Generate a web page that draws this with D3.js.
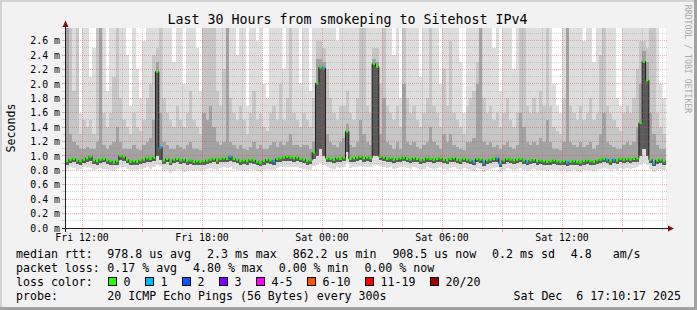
<!DOCTYPE html>
<meta charset="utf-8">
<style>
	body { margin: 0; background: #f2f2f2; }
	svg text { font-family: "DejaVu Sans Mono", monospace; fill: #000; }
	.axis text { font-size: 9.9px; }
	.legend text { font-size: 11.6px; white-space: pre; }
</style>
<body>
<script src="https://d3js.org/d3.v7.min.js"></script>
<script>

	// graph covers the 30 hours up to this moment, 10 minute steps
	var endTime = new Date(Date.UTC(2025, 11, 6, 17, 10, 17));
	var spanHours = 30;
	var stepMinutes = 10;

	// median rtt per step (ms)
	var median = [
		0.93,0.95,0.96,0.94,0.93,0.95,0.97,0.99,0.94,0.93, 0.95,0.96,0.94,0.93,0.91,0.93,1.00,0.99,0.95,0.92,
		0.93,0.92,0.94,0.95,0.97,0.96,0.98,2.17,1.12,0.94, 0.96,0.92,0.95,0.96,0.94,0.95,0.93,0.94,0.92,0.93,
		0.92,0.93,0.94,0.95,0.96,0.94,0.96,0.97,0.96,0.99, 0.96,0.95,0.93,0.94,0.93,0.95,0.94,0.92,0.90,0.93,
		0.95,0.94,0.93,0.96,0.97,0.98,0.99,0.98,0.97,0.98, 0.96,0.95,0.93,0.94,1.05,2.01,2.23,2.22,0.97,0.96,
		0.95,0.97,0.96,0.98,1.34,0.96,0.97,0.98,0.99,0.97, 0.98,0.97,2.28,2.24,0.99,0.98,0.96,0.97,0.95,0.96,
		0.97,0.98,0.96,0.95,0.97,0.96,0.94,0.95,0.97,0.96, 0.95,0.96,0.97,0.95,0.94,0.96,0.97,0.95,0.94,0.96,
		0.95,0.94,0.92,0.96,0.95,0.91,0.94,0.95,0.96,0.97, 0.89,0.94,0.96,0.95,0.94,0.95,0.96,0.94,0.92,0.94,
		0.95,0.93,0.94,0.93,0.92,0.93,0.94,0.93,0.92,0.93, 0.91,0.92,0.93,0.92,0.91,0.93,0.94,0.93,0.92,0.94,
		0.95,0.96,0.95,0.93,0.95,0.94,0.96,0.95,0.96,0.95, 0.96,0.97,1.46,2.31,2.05,0.95,0.90,0.94,0.95,0.93
	];

	// highest ping per step (values above the top are clipped)
	var maxPing = [
		2.8,2.8,2.8,2.8,1.6,2.8,2.8,2.1,2.5,2.8, 2.8,2.8,1.9,2.8,2.8,2.8,2.8,2.8,2.4,1.7,
		2.8,2.2,1.8,2.6,2.8,2.8,2.8,2.8,2.8,2.8, 2.8,2.8,2.3,2.8,2.8,2.0,2.8,2.8,2.8,2.5,
		1.9,2.8,2.8,2.8,2.8,2.8,2.8,2.8,2.8,2.8, 2.8,2.4,2.8,2.8,1.7,2.8,2.8,2.6,2.8,2.0,
		1.8,2.8,2.8,2.8,2.8,2.2,2.8,2.8,2.8,2.8, 2.0,2.8,2.8,1.9,2.8,2.8,2.8,2.8,2.8,2.8,
		2.8,2.6,2.8,2.8,2.8,2.8,2.8,2.8,2.8,2.8, 2.8,2.8,2.8,2.8,2.8,2.8,2.8,2.8,2.4,2.8,
		1.8,2.8,2.8,2.8,2.8,2.8,2.1,2.8,2.8,2.8, 2.8,2.8,2.0,2.8,2.8,2.8,2.8,2.8,2.3,1.6,
		2.8,2.8,2.8,2.8,2.8,2.8,2.8,2.8,2.5,2.8, 1.9,2.8,2.8,2.8,2.2,2.8,2.8,2.8,2.8,2.8,
		2.8,2.8,2.8,2.8,2.8,2.8,2.0,1.7,1.6,2.8, 2.8,2.8,2.8,2.8,2.8,2.6,2.8,2.8,2.3,2.8,
		2.8,2.8,2.8,2.8,2.8,1.8,1.7,2.8,2.8,2.8, 2.8,2.8,2.8,2.8,2.8,2.8,2.8,2.8,2.0,1.8
	];

	// 90th percentile ping
	var p90 = [
		2.8,2.8,1.9,2.8,1.3,1.5,1.4,1.5,1.3,2.8, 2.8,1.6,1.4,1.6,2.1,2.8,1.8,1.5,1.4,1.3,
		1.6,1.4,1.35,1.5,1.8,2.0,2.4,2.5,2.8,1.8, 1.6,1.5,1.4,1.7,1.5,1.4,1.6,1.9,1.5,1.4,
		1.3,2.8,2.8,2.8,2.8,1.9,1.7,2.2,2.8,1.8, 1.6,1.5,1.7,1.5,1.3,1.6,1.9,1.5,1.6,1.4,
		1.35,1.6,1.7,1.5,2.0,1.5,1.8,2.8,1.6,1.5, 1.4,1.6,1.5,1.4,1.8,2.6,2.6,2.5,2.2,1.8,
		1.6,1.5,1.7,1.7,1.9,1.6,1.5,1.8,2.8,2.8, 1.7,1.6,2.5,2.5,2.0,2.8,1.7,1.6,1.5,1.7,
		1.4,2.8,1.8,1.6,1.7,1.5,1.4,1.6,1.8,2.8, 1.7,1.6,1.4,2.2,1.7,2.6,1.6,1.5,1.4,1.3,
		1.7,1.8,1.9,2.3,2.8,1.8,1.6,1.7,1.5,1.6, 1.4,1.6,1.8,1.5,1.4,1.6,2.8,2.8,1.7,1.6,
		1.8,1.6,1.9,1.7,2.8,1.7,1.4,1.35,1.3,1.8, 2.8,1.7,1.6,1.5,1.7,1.5,1.6,1.8,1.5,1.6,
		2.4,2.8,1.7,1.6,1.5,1.4,1.35,1.6,1.7,1.6, 1.8,2.2,2.6,2.6,2.5,2.8,2.8,1.6,1.4,1.3
	];

	// 75th percentile ping
	var p75 = [
		2.8,1.3,1.2,1.15,1.1,1.1,1.12,1.1,1.1,1.2, 2.8,1.15,1.1,1.15,1.2,1.4,1.2,1.1,1.1,1.1,
		1.15,1.1,1.08,1.15,1.2,1.25,1.5,2.3,1.6,1.2, 1.15,1.1,1.1,1.15,1.12,1.1,1.15,1.2,1.1,1.1,
		1.08,1.6,1.5,1.7,1.4,1.2,1.15,1.2,2.8,1.2, 1.15,1.1,1.15,1.1,1.08,1.12,1.2,1.1,1.15,1.1,
		1.1,1.15,1.2,1.12,1.2,1.15,1.2,1.3,1.15,1.15, 1.12,1.15,1.15,1.1,1.2,2.35,2.35,2.3,1.3,1.2,
		1.15,1.12,1.2,1.25,1.45,1.15,1.12,1.2,1.5,1.3, 1.2,1.15,2.35,2.3,1.3,1.8,1.2,1.15,1.1,1.2,
		1.1,2.0,1.2,1.15,1.2,1.12,1.1,1.15,1.2,1.4, 1.2,1.15,1.1,1.3,1.2,1.3,1.15,1.12,1.1,1.08,
		1.2,1.2,1.25,2.0,2.8,1.2,1.15,1.2,1.12,1.15, 1.1,1.15,1.2,1.12,1.1,1.15,1.6,1.4,1.2,1.15,
		1.2,1.15,1.25,1.2,1.5,1.2,1.1,1.1,1.08,1.2, 2.8,1.2,1.15,1.12,1.2,1.12,1.15,1.2,1.1,1.15,
		1.3,1.6,1.2,1.15,1.12,1.1,1.1,1.15,1.2,1.15, 1.2,1.4,2.0,2.45,2.3,1.6,1.3,1.15,1.1,1.1
	];

	// 25th percentile ping
	var p25 = [
		0.88,0.90,0.91,0.89,0.88,0.90,0.92,0.93,0.89,0.88, 0.90,0.91,0.89,0.88,0.87,0.88,0.94,0.93,0.90,0.87,
		0.88,0.87,0.89,0.90,0.92,0.91,0.93,1.00,0.95,0.89, 0.91,0.87,0.90,0.91,0.89,0.90,0.88,0.89,0.87,0.88,
		0.87,0.88,0.89,0.90,0.91,0.89,0.91,0.92,0.91,0.93, 0.91,0.90,0.88,0.89,0.88,0.90,0.89,0.87,0.86,0.88,
		0.90,0.89,0.88,0.91,0.92,0.93,0.93,0.93,0.92,0.93, 0.91,0.90,0.88,0.89,0.96,1.00,1.10,1.00,0.92,0.91,
		0.90,0.92,0.91,0.93,1.05,0.91,0.92,0.93,0.94,0.92, 0.93,0.92,1.00,1.00,0.94,0.93,0.91,0.92,0.90,0.91,
		0.92,0.93,0.91,0.90,0.92,0.91,0.89,0.90,0.92,0.91, 0.90,0.91,0.92,0.90,0.89,0.91,0.92,0.90,0.89,0.91,
		0.90,0.89,0.87,0.91,0.90,0.86,0.89,0.90,0.91,0.92, 0.85,0.89,0.91,0.90,0.89,0.90,0.91,0.89,0.87,0.89,
		0.90,0.88,0.89,0.88,0.87,0.88,0.89,0.88,0.87,0.88, 0.86,0.87,0.88,0.87,0.86,0.88,0.89,0.88,0.87,0.89,
		0.90,0.91,0.90,0.88,0.90,0.89,0.91,0.90,0.91,0.90, 0.91,0.92,1.00,1.10,1.00,0.90,0.86,0.89,0.90,0.88
	];

	// lowest ping per step
	var minPing = [
		0.82,0.84,0.83,0.81,0.82,0.84,0.85,0.83,0.80,0.82, 0.83,0.82,0.80,0.81,0.79,0.82,0.85,0.84,0.82,0.80,
		0.81,0.80,0.82,0.83,0.84,0.82,0.85,0.88,0.86,0.81, 0.80,0.76,0.79,0.82,0.80,0.78,0.80,0.81,0.79,0.80,
		0.79,0.81,0.82,0.83,0.82,0.81,0.83,0.84,0.83,0.85, 0.82,0.81,0.80,0.81,0.79,0.82,0.81,0.79,0.78,0.80,
		0.82,0.81,0.80,0.83,0.84,0.85,0.84,0.85,0.84,0.85, 0.83,0.82,0.80,0.81,0.86,0.88,0.90,0.88,0.84,0.83,
		0.82,0.84,0.83,0.85,0.90,0.83,0.84,0.85,0.86,0.84, 0.85,0.84,0.88,0.88,0.86,0.85,0.83,0.84,0.82,0.83,
		0.84,0.85,0.83,0.82,0.84,0.83,0.81,0.82,0.84,0.83, 0.82,0.83,0.84,0.82,0.81,0.83,0.84,0.82,0.81,0.83,
		0.82,0.81,0.79,0.83,0.82,0.78,0.81,0.82,0.83,0.84, 0.78,0.81,0.83,0.82,0.81,0.82,0.83,0.81,0.79,0.81,
		0.82,0.80,0.81,0.80,0.79,0.80,0.81,0.80,0.79,0.80, 0.78,0.79,0.80,0.79,0.78,0.80,0.81,0.80,0.79,0.81,
		0.82,0.83,0.82,0.80,0.82,0.81,0.83,0.82,0.83,0.82, 0.83,0.84,0.88,0.90,0.88,0.82,0.78,0.81,0.82,0.80
	];

	// lost pings (of 20) per step
	var loss = [
		0,0,0,0,0,0,0,0,0,0, 0,0,0,0,0,0,0,0,0,0,
		0,0,0,0,0,0,0,0,1,0, 0,0,0,0,0,0,0,0,0,0,
		0,0,0,0,0,0,0,0,0,1, 0,0,0,0,0,0,0,0,0,0,
		0,0,1,0,0,0,0,0,0,0, 0,0,0,0,0,0,0,1,0,0,
		0,0,0,0,0,0,0,0,0,0, 0,0,0,0,0,0,0,0,0,0,
		0,0,0,0,0,0,0,0,0,0, 0,0,0,0,0,0,0,0,0,0,
		0,0,1,0,0,1,0,0,0,1, 1,0,0,0,0,0,0,0,1,0,
		0,0,0,0,0,0,0,0,0,0, 1,0,0,0,0,0,0,0,0,0,
		0,0,1,0,1,0,0,0,0,0, 0,0,0,0,0,0,1,0,0,0
	];

	var yTicks = [0, 0.2, 0.4, 0.6, 0.8, 1.0, 1.2, 1.4, 1.6, 1.8, 2.0, 2.2, 2.4, 2.6];
	var yMax = 2.776;

	var lossLabels = ["0", "1", "2", "3", "4-5", "6-10", "11-19", "20/20"];
	var lossColors = ["#26ff00", "#00b8ff", "#0059ff", "#7e00ff", "#ff00ff", "#ff5500", "#ff0000", "#a10000"];
	var lossLimits = [0, 1, 2, 3, 5, 10, 19, 20];

	var title = "Last 30 Hours from smokeping to Sitehost IPv4";
	var medianStats = ["978.8 us avg", "2.3 ms max", "862.2 us min", "908.5 us now", "0.2 ms sd", "4.8   am/s"];
	var lossStats = ["0.17 % avg", "4.80 % max", "0.00 % min", "0.00 % now"];
	var probeText = "20 ICMP Echo Pings (56 Bytes) every 300s";
	var stampText = "Sat Dec  6 17:10:17 2025";

	var W = 697, H = 310;
	var startTime = d3.utcHour.offset(endTime, -spanHours);

	var x = d3.scaleTime().domain([startTime, endTime]).range([65.5, 665.5]);
	var y = d3.scaleLinear().domain([0, yMax]).range([228, 28]);

	var steps = median.map(function(m, i) {
		var t0 = d3.utcMinute.offset(startTime, i * stepMinutes);
		return {
			t0: t0, t1: d3.utcMinute.offset(t0, stepMinutes),
			lo: minPing[i], p25: p25[i], med: m, p75: p75[i], p90: p90[i], hi: maxPing[i],
			loss: loss[i]
		};
	});

	var svg = d3.select("body").append("svg")
		.attr("width", W)
		.attr("height", H);

	// background with rrdtool style shaded frame
	svg.append("rect").attr("width", W).attr("height", H).attr("fill", "#f2f2f2");
	svg.append("path").attr("d", "M0,0H697V2H2V310H0Z").attr("fill", "#d2d2d2");
	svg.append("path").attr("d", "M697,0V310H0V307H694V0Z").attr("fill", "#a2a2a2");

	svg.append("rect")
		.attr("x", 66).attr("y", 28)
		.attr("width", 600).attr("height", 200)
		.attr("fill", "#fff");

	svg.append("clipPath").attr("id", "plot")
		.append("rect").attr("x", 66).attr("y", 28).attr("width", 601).attr("height", 200);

	var g = svg.append("g").attr("clip-path", "url(#plot)");

	// smoke: light outer pings, darker towards the median
	var bands = [
		{from: "lo", to: "hi", color: "#dddddd"},
		{from: "p25", to: "p90", color: "#c6c6c6"},
		{from: "p25", to: "p75", color: "#a2a2a2"},
		{from: "p25", to: "med", color: "#5a5a5a"}
	];

	bands.forEach(function(b) {
		g.append("g").selectAll("rect")
			.data(steps)
			.enter().append("rect")
			.attr("x", function(d) { return x(d.t0); })
			.attr("width", function(d) { return x(d.t1) - x(d.t0); })
			.attr("y", function(d) { return y(Math.min(d[b.to], yMax + 0.05)); })
			.attr("height", function(d) { return y(d[b.from]) - y(Math.min(d[b.to], yMax + 0.05)); })
			.attr("fill", b.color)
			.attr("shape-rendering", "crispEdges");
	});

	// median: dark connecting line, then loss coloured pieces
	var medPts = steps.map(function(d) { return [x(d.t0), y(d.med)]; });
	medPts.push([x(steps[steps.length - 1].t1), y(steps[steps.length - 1].med)]);
	g.append("path")
		.attr("d", d3.line().curve(d3.curveStepAfter)(medPts))
		.attr("fill", "none")
		.attr("stroke", "#202020")
		.attr("stroke-width", 1);

	function lossIndex(n) {
		for (var k = 0; k < lossLimits.length; k++) {
			if (n <= lossLimits[k]) return k;
		}
		return lossLimits.length - 1;
	}

	g.append("g").selectAll("rect")
		.data(steps)
		.enter().append("rect")
		.attr("x", function(d) { return x(d.t0) + 0.4; })
		.attr("width", function(d) { return x(d.t1) - x(d.t0) - 0.8; })
		.attr("y", function(d) { return y(d.med) - 1.2; })
		.attr("height", 2.4)
		.attr("fill", function(d) { return lossColors[lossIndex(d.loss)]; });

	// grid on top of the graph
	var grid = svg.append("g").attr("shape-rendering", "crispEdges");
	var minorColor = "rgba(130,130,130,0.3)";
	var majorColor = "rgba(230,70,70,0.42)";

	var minorY = d3.range(1, 28).map(function(k) { return k / 10; }).filter(function(v) { return Math.round(v * 10) % 2 === 1; });
	grid.selectAll(".hminor")
		.data(minorY)
		.enter().append("line")
		.attr("x1", 66).attr("x2", 668)
		.attr("y1", function(d) { return Math.floor(y(d)) + 0.5; })
		.attr("y2", function(d) { return Math.floor(y(d)) + 0.5; })
		.attr("stroke", minorColor)
		.attr("stroke-dasharray", "1,1");

	grid.selectAll(".hmajor")
		.data(yTicks.slice(1))
		.enter().append("line")
		.attr("x1", 66).attr("x2", 668)
		.attr("y1", function(d) { return Math.floor(y(d)) + 0.5; })
		.attr("y2", function(d) { return Math.floor(y(d)) + 0.5; })
		.attr("stroke", majorColor)
		.attr("stroke-dasharray", "1,1");

	var hours = d3.utcHour.every(1).range(startTime, endTime);
	var minorX = hours.filter(function(t) { return t.getUTCHours() % 3 !== 0; });
	var majorX = hours.filter(function(t) { return t.getUTCHours() % 3 === 0; });

	grid.selectAll(".vminor")
		.data(minorX)
		.enter().append("line")
		.attr("y1", 28).attr("y2", 228)
		.attr("x1", function(d) { return Math.floor(x(d)) + 0.5; })
		.attr("x2", function(d) { return Math.floor(x(d)) + 0.5; })
		.attr("stroke", minorColor)
		.attr("stroke-dasharray", "1,1");

	grid.selectAll(".vmajor")
		.data(majorX)
		.enter().append("line")
		.attr("y1", 28).attr("y2", 228)
		.attr("x1", function(d) { return Math.floor(x(d)) + 0.5; })
		.attr("x2", function(d) { return Math.floor(x(d)) + 0.5; })
		.attr("stroke", majorColor)
		.attr("stroke-dasharray", "1,1");

	// tick marks just outside the axes
	grid.selectAll(".tx")
		.data(hours)
		.enter().append("line")
		.attr("x1", function(d) { return Math.floor(x(d)) + 0.5; })
		.attr("x2", function(d) { return Math.floor(x(d)) + 0.5; })
		.attr("y1", 229).attr("y2", function(d) { return d.getUTCHours() % 3 === 0 ? 232 : 231; })
		.attr("stroke", function(d) { return d.getUTCHours() % 3 === 0 ? majorColor : minorColor; });

	grid.selectAll(".ty")
		.data(minorY.concat(yTicks.slice(1)))
		.enter().append("line")
		.attr("y1", function(d) { return Math.floor(y(d)) + 0.5; })
		.attr("y2", function(d) { return Math.floor(y(d)) + 0.5; })
		.attr("x1", 62).attr("x2", 65)
		.attr("stroke", function(d) { return yTicks.indexOf(d) >= 0 ? majorColor : minorColor; });

	// axes with arrows
	var axisColor = "#202020", arrowColor = "#7f1010";
	grid.append("line").attr("x1", 62).attr("x2", 669).attr("y1", 228.5).attr("y2", 228.5).attr("stroke", axisColor);
	grid.append("line").attr("x1", 65.5).attr("x2", 65.5).attr("y1", 232).attr("y2", 24).attr("stroke", axisColor);
	svg.append("path").attr("d", "M62.5,27L68.5,27L65.5,20.5Z").attr("fill", arrowColor);
	svg.append("path").attr("d", "M668,225.5L668,231.5L674,228.5Z").attr("fill", arrowColor);

	// axis labels
	var axis = svg.append("g").attr("class", "axis");
	axis.selectAll(".yl")
		.data(yTicks)
		.enter().append("text")
		.attr("x", 60)
		.attr("y", function(d) { return y(d) + 3.6; })
		.attr("text-anchor", "end")
		.text(function(d) { return d.toFixed(1) + " m"; });

	var fmt = d3.utcFormat("%a %H:%M");
	axis.selectAll(".xl")
		.data(d3.utcHour.every(6).range(startTime, endTime))
		.enter().append("text")
		.attr("x", function(d) { return x(d); })
		.attr("y", 240.5)
		.attr("text-anchor", "middle")
		.text(function(d) { return fmt(d); });

	svg.append("text")
		.attr("x", 347.5).attr("y", 24)
		.attr("text-anchor", "middle")
		.style("font-size", "13.3px")
		.text(title);

	svg.append("text")
		.attr("transform", "translate(15,128) rotate(-90)")
		.attr("text-anchor", "middle")
		.style("font-size", "11.6px")
		.text("Seconds");

	svg.append("text")
		.attr("transform", "translate(685,59) rotate(90)")
		.attr("text-anchor", "middle")
		.style("font-size", "8.2px")
		.style("fill", "#a8a8a8")
		.text("RRDTOOL / TOBI OETIKER");

	// legend
	var leg = svg.append("g").attr("class", "legend");
	var cw = 7.0, gap = 15.7, col = 107.3;

	function row(label, items, base) {
		leg.append("text").attr("x", 16).attr("y", base).text(label);
		var px = col;
		items.forEach(function(s) {
			leg.append("text").attr("x", px).attr("y", base).text(s);
			px += s.length * cw + gap;
		});
	}

	row("median rtt:", medianStats, 257.5);
	row("packet loss:", lossStats, 271.5);

	leg.append("text").attr("x", 16).attr("y", 285.5).text("loss color:");
	var bx = 108.5;
	lossLabels.forEach(function(l, k) {
		leg.append("rect")
			.attr("x", bx).attr("y", 277.5)
			.attr("width", 8).attr("height", 8)
			.attr("fill", lossColors[k])
			.attr("stroke", "#000");
		leg.append("text").attr("x", bx + 15).attr("y", 285.5).text(l);
		bx += 15 + l.length * cw + 15;
	});

	leg.append("text").attr("x", 16).attr("y", 299.5).text("probe:");
	leg.append("text").attr("x", col).attr("y", 299.5).text(probeText);
	leg.append("text").attr("x", 681).attr("y", 299.5).attr("text-anchor", "end").text(stampText);

</script>
</body>
